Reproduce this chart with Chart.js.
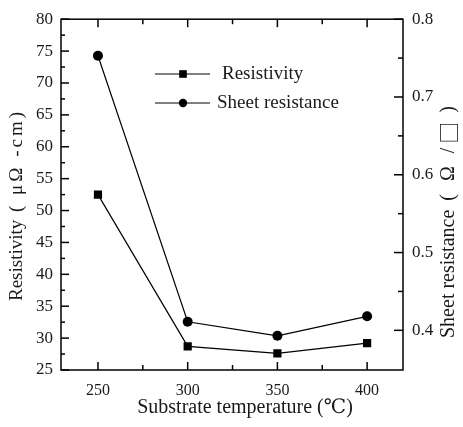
<!DOCTYPE html>
<html>
<head>
<meta charset="utf-8">
<script src="https://cdn.jsdelivr.net/npm/chart.js@4/dist/chart.umd.min.js"></script>
<style>
  html, body { margin: 0; background: #fff; }
</style>
</head>
<body>
<canvas id="resChart" width="463" height="427"></canvas>
<script>
// substrate temperature (°C) and measured values
const temps = [250, 300, 350, 400];
const resistivity = [52.5, 28.7, 27.6, 29.2];   // μΩ-cm
const sheetRes = [0.753, 0.411, 0.393, 0.418];   // Ω/□

// tick positions
const xTicks = [250, 300, 350, 400];
const xMinor = [275, 325, 375];
const yTicks = [25, 30, 35, 40, 45, 50, 55, 60, 65, 70, 75, 80];
const yMinor = [27.5, 32.5, 37.5, 42.5, 47.5, 52.5, 57.5, 62.5, 67.5, 72.5, 77.5];
const y2Ticks = [0.4, 0.5, 0.6, 0.7, 0.8];
const y2Minor = [0.45, 0.55, 0.65, 0.75];

const serif = "'Liberation Serif', 'DejaVu Serif', serif";
const cjk = "'Noto Sans CJK SC', 'DejaVu Sans', sans-serif";
const ink = "#1a1a1a";

// axis titles as runs of text (unit parts are set a little looser)
const xTitle = [{ text: "Substrate temperature (℃)", font: "20px " + serif }];
const yTitle = [
  { text: "Resistivity", font: "19px " + serif },
  { text: " ( μΩ -cm)", font: "19px " + serif, spacing: "3px" }
];
const y2Title = [
  { text: "Sheet resistance", font: "20px " + serif },
  { text: " ( Ω /", font: "20px " + serif, spacing: "4px" },
  { text: "□", font: "22px " + cjk },
  { text: " )", font: "20px " + serif, spacing: "4px" }
];

function runsWidth(ctx, runs) {
  let w = 0;
  runs.forEach(r => {
    ctx.font = r.font;
    ctx.letterSpacing = r.spacing || "0px";
    w += ctx.measureText(r.text).width;
  });
  return w;
}

function drawRuns(ctx, runs, x, y, angle) {
  ctx.save();
  ctx.translate(x, y);
  ctx.rotate(angle);
  let pos = 0;
  runs.forEach(r => {
    ctx.font = r.font;
    ctx.letterSpacing = r.spacing || "0px";
    ctx.fillText(r.text, pos, 0);
    pos += ctx.measureText(r.text).width;
  });
  ctx.restore();
}

// frame + inward tick marks on all four sides
const frameTicks = {
  id: "frameTicks",
  afterDraw(chart) {
    const { ctx, chartArea: a, scales } = chart;
    ctx.save();
    ctx.strokeStyle = "#000";
    ctx.lineWidth = 1.5;
    ctx.strokeRect(a.left, a.top, a.right - a.left, a.bottom - a.top);
    const line = (x1, y1, x2, y2) => {
      ctx.beginPath();
      ctx.moveTo(x1, y1);
      ctx.lineTo(x2, y2);
      ctx.stroke();
    };
    const xs = (vals, len) => vals.forEach(v => {
      const x = scales.x.getPixelForValue(v);
      line(x, a.bottom, x, a.bottom - len);
      line(x, a.top, x, a.top + len);
    });
    xs(xTicks, 8);
    xs(xMinor, 5);
    yTicks.forEach(v => { const y = scales.y.getPixelForValue(v); line(a.left, y, a.left + 8, y); });
    yMinor.forEach(v => { const y = scales.y.getPixelForValue(v); line(a.left, y, a.left + 4, y); });
    y2Ticks.forEach(v => { const y = scales.y2.getPixelForValue(v); line(a.right, y, a.right - 9, y); });
    y2Minor.forEach(v => { const y = scales.y2.getPixelForValue(v); line(a.right, y, a.right - 5, y); });
    ctx.restore();
  }
};

// axis titles; both vertical ones read bottom-to-top
const axisTitles = {
  id: "axisTitles",
  afterDraw(chart) {
    const { ctx } = chart;
    ctx.save();
    ctx.fillStyle = ink;
    ctx.textBaseline = "middle";
    ctx.textAlign = "left";
    const xw = runsWidth(ctx, xTitle);
    drawRuns(ctx, xTitle, 245 - xw / 2, 408, 0);
    drawRuns(ctx, yTitle, 17, 301, -Math.PI / 2);
    drawRuns(ctx, y2Title, 449, 338, -Math.PI / 2);
    ctx.restore();
  }
};

// legend drawn inside the plot area
const innerLegend = {
  id: "innerLegend",
  afterDraw(chart) {
    const { ctx } = chart;
    const rows = [
      { label: "Resistivity", style: "rect", r: 5.4, y: 74, tx: 222 },
      { label: "Sheet resistance", style: "circle", r: 4.2, y: 103, tx: 217 }
    ];
    ctx.save();
    rows.forEach(row => {
      ctx.strokeStyle = "#000";
      ctx.lineWidth = 1;
      ctx.beginPath();
      ctx.moveTo(155, row.y);
      ctx.lineTo(210, row.y);
      ctx.stroke();
      ctx.fillStyle = "#000";
      Chart.helpers.drawPoint(ctx, { pointStyle: row.style, radius: row.r, rotation: 0, borderWidth: 0 }, 183, row.y);
      ctx.fillStyle = ink;
      ctx.font = "19px " + serif;
      ctx.textBaseline = "middle";
      ctx.fillText(row.label, row.tx, row.y);
    });
    ctx.restore();
  }
};

const toXY = (vals) => vals.map((v, i) => ({ x: temps[i], y: v }));

new Chart(document.getElementById("resChart"), {
  type: "line",
  data: {
    datasets: [
      {
        label: "Resistivity",
        data: toXY(resistivity),
        yAxisID: "y",
        borderColor: "#000",
        borderWidth: 1.2,
        pointStyle: "rect",
        pointRadius: 5.8,
        pointBackgroundColor: "#000",
        pointBorderWidth: 0,
        tension: 0
      },
      {
        label: "Sheet resistance",
        data: toXY(sheetRes),
        yAxisID: "y2",
        borderColor: "#000",
        borderWidth: 1.2,
        pointStyle: "circle",
        pointRadius: 5,
        pointBackgroundColor: "#000",
        pointBorderWidth: 0,
        tension: 0
      }
    ]
  },
  options: {
    responsive: false,
    devicePixelRatio: 1,
    animation: false,
    layout: { autoPadding: false, padding: { top: 16, left: 0, right: 0, bottom: 0 } },
    plugins: {
      legend: { display: false },
      tooltip: { enabled: false }
    },
    scales: {
      x: {
        type: "linear",
        min: 229.4,
        max: 420,
        afterBuildTicks: s => { s.ticks = xTicks.map(v => ({ value: v })); },
        afterFit: s => { s.height = 57; },
        grid: { display: false, drawTicks: false },
        border: { display: false },
        ticks: { padding: 11, color: ink, font: { family: serif, size: 16 } }
      },
      y: {
        position: "left",
        min: 25,
        max: 80,
        afterBuildTicks: s => { s.ticks = yTicks.map(v => ({ value: v })); },
        afterFit: s => { s.width = 61; },
        grid: { display: false, drawTicks: false },
        border: { display: false },
        ticks: { padding: 8, color: ink, font: { family: serif, size: 17 } }
      },
      y2: {
        position: "right",
        min: 0.349,
        max: 0.8,
        afterBuildTicks: s => { s.ticks = y2Ticks.map(v => ({ value: v })); },
        afterFit: s => { s.width = 60; },
        grid: { display: false, drawTicks: false },
        border: { display: false },
        ticks: {
          padding: 9,
          color: ink,
          font: { family: serif, size: 17 },
          callback: v => v.toFixed(1)
        }
      }
    }
  },
  plugins: [frameTicks, axisTitles, innerLegend]
});
</script>
</body>
</html>
